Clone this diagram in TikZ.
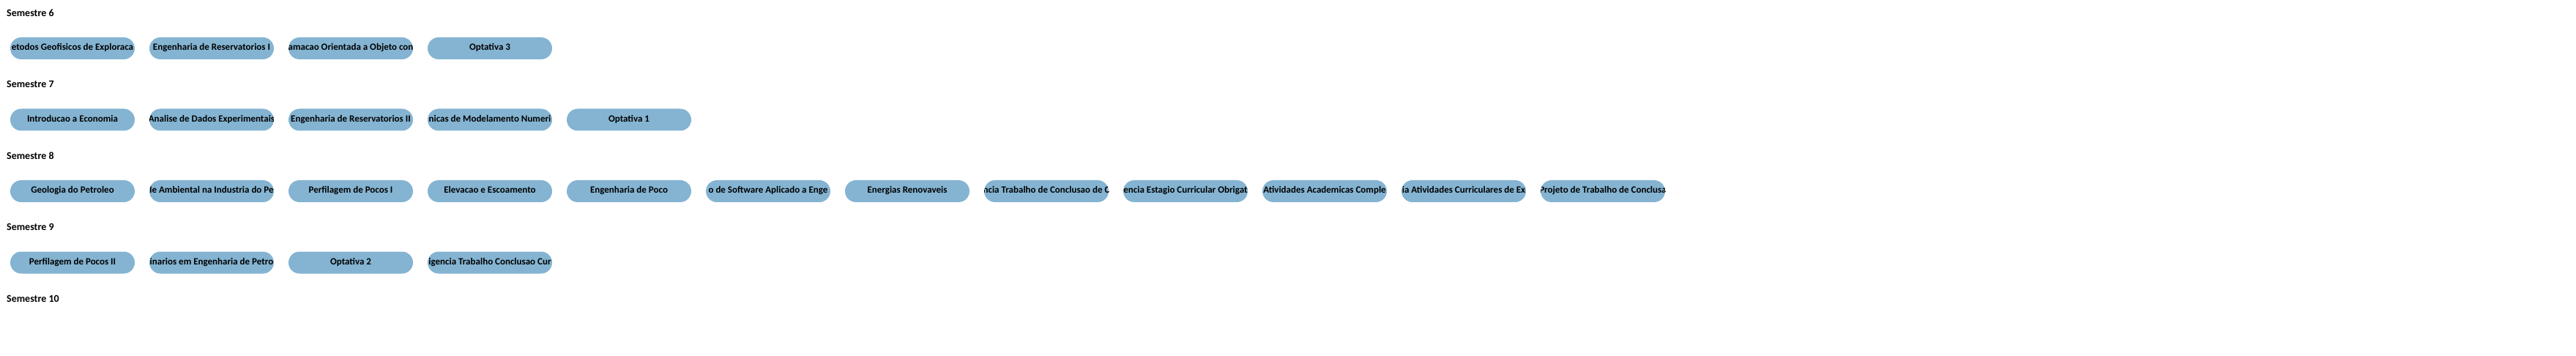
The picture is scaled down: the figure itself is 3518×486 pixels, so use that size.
\documentclass[tikz,border=0pt]{standalone}
\usepackage{fontspec}
\setmainfont{Carlito}
\definecolor{pillblue}{HTML}{84B4D2}
\tikzset{
  pill/.style={fill=pillblue, rounded corners=15pt, minimum width=170pt, minimum height=30pt, inner sep=0pt, outer sep=0pt},
  ptext/.style={font=\bfseries\fontsize{13}{15}\selectfont, inner sep=0pt, text=black, text height=8.5pt, text depth=2.5pt},
  semlabel/.style={anchor=west, font=\bfseries\fontsize{14}{16}\selectfont, inner sep=0pt, text=black, text height=9pt, text depth=2.5pt}
}
\newcommand\pillat[3]{\node[pill, path picture={\node[ptext] at (path picture bounding box.center) {#3};}] (#1) at (#2) {};}
\begin{document}
\begin{tikzpicture}[x=1pt,y=-1pt]
\useasboundingbox (0,0) rectangle (3518,486);
% Semestre 6
\node[semlabel] (s6) at (9,19) {Semestre 6};
\pillat{p6a}{99,66}{etodos Geofisicos de Exploraca}
\pillat{p6b}{289,66}{Engenharia de Reservatorios I}
\pillat{p6c}{479,66}{amacao Orientada a Objeto con}
\pillat{p6d}{669,66}{Optativa 3}
% Semestre 7
\node[semlabel] (s7) at (9,116.5) {Semestre 7};
\pillat{p7a}{99,163.5}{Introducao a Economia}
\pillat{p7b}{289,163.5}{Analise de Dados Experimentais}
\pillat{p7c}{479,163.5}{Engenharia de Reservatorios II}
\pillat{p7d}{669,163.5}{nicas de Modelamento Numeri}
\pillat{p7e}{859,163.5}{Optativa 1}
% Semestre 8
\node[semlabel] (s8) at (9,214) {Semestre 8};
\pillat{p8a}{99,261}{Geologia do Petroleo}
\pillat{p8b}{289,261}{le Ambiental na Industria do Pe}
\pillat{p8c}{479,261}{Perfilagem de Pocos I}
\pillat{p8d}{669,261}{Elevacao e Escoamento}
\pillat{p8e}{859,261}{Engenharia de Poco}
\pillat{p8f}{1049,261}{o de Software Aplicado a Enge}
\pillat{p8g}{1239,261}{Energias Renovaveis}
\pillat{p8h}{1429,261}{ncia Trabalho de Conclusao de C}
\pillat{p8i}{1619,261}{encia Estagio Curricular Obrigat}
\pillat{p8j}{1809,261}{Atividades Academicas Comple}
\pillat{p8k}{1999,261}{ia Atividades Curriculares de Ex}
\pillat{p8l}{2189,261}{Projeto de Trabalho de Conclusa}
% Semestre 9
\node[semlabel] (s9) at (9,311.5) {Semestre 9};
\pillat{p9a}{99,358.5}{Perfilagem de Pocos II}
\pillat{p9b}{289,358.5}{inarios em Engenharia de Petro}
\pillat{p9c}{479,358.5}{Optativa 2}
\pillat{p9d}{669,358.5}{igencia Trabalho Conclusao Cur}
% Semestre 10
\node[semlabel] (s10) at (9,409) {Semestre 10};
\end{tikzpicture}
\end{document}
